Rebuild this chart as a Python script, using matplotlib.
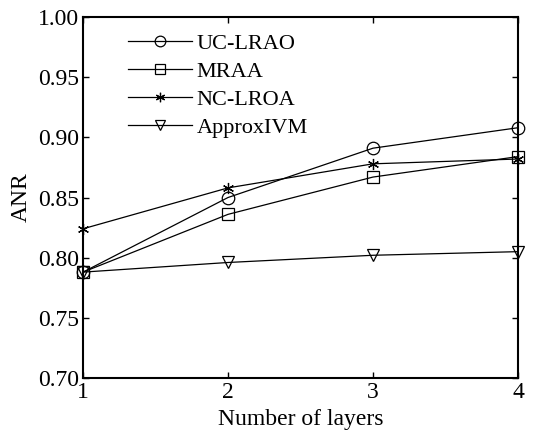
import matplotlib
matplotlib.use('Agg')
import matplotlib.pyplot as plt

plt.rcParams['font.family'] = ['Liberation Serif', 'DejaVu Serif']

layers = [1, 2, 3, 4]
uc_lrao = [0.788, 0.850, 0.891, 0.908]
mraa = [0.788, 0.836, 0.867, 0.884]
nc_lroa = [0.824, 0.858, 0.878, 0.882]
approx_ivm = [0.788, 0.796, 0.802, 0.805]

nomes = ['UC-LRAO', 'MRAA', 'NC-LROA', 'ApproxIVM']
series = [uc_lrao, mraa, nc_lroa, approx_ivm]
# asterisco estilo matlab = (6, 2, 0)
marcadores = ['o', 's', (6, 2, 0), 'v']
tamanhos = [9, 9, 8, 9]

fig = plt.figure(figsize=(5.37, 4.32), dpi=100)
ax = fig.add_axes([0.1546, 0.125, 0.81, 0.8356])

for serie, nome, m, t in zip(series, nomes, marcadores, tamanhos):
    ax.plot(layers, serie, color='black', linewidth=0.9, marker=m,
            markersize=t, markerfacecolor='none',
            markeredgecolor='black', markeredgewidth=0.9, label=nome,
            clip_on=False)

ax.set_xlim(1, 4)
ax.set_ylim(0.70, 1.00)
ax.set_xticks([1, 2, 3, 4])
ax.set_yticks([0.70, 0.75, 0.80, 0.85, 0.90, 0.95, 1.00])
ax.set_yticklabels(['0.70', '0.75', '0.80', '0.85', '0.90', '0.95', '1.00'])
ax.tick_params(direction='in', top=True, right=True, labelsize=17, length=4, width=1, pad=3)
for s in ax.spines.values():
    s.set_linewidth(1.5)

ax.set_xlabel('Number of layers', fontsize=17, labelpad=4)
ax.set_ylabel('ANR', fontsize=17, labelpad=4)

ax.legend(loc='upper left', bbox_to_anchor=(0.082, 0.98), frameon=False,
          fontsize=16, handlelength=2.9, labelspacing=0.34, handletextpad=0.2,
          borderaxespad=0, markerscale=0.85)

fig.savefig('out.png', dpi=100)
